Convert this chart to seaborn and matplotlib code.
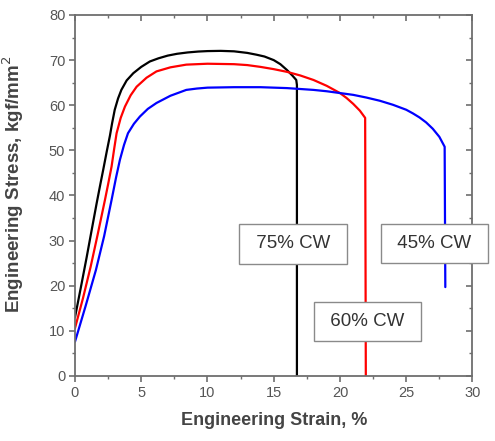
import matplotlib
matplotlib.use("Agg")
import matplotlib.pyplot as plt
import seaborn as sns
import pandas as pd

# Tensile curves: engineering strain (%) vs engineering stress (kgf/mm^2)
strain_75 = [0, 0.5, 0.88, 1.25, 1.63, 1.9, 2.13, 2.4, 2.64, 2.8, 3.0, 3.25, 3.5,
             3.9, 4.4, 5.0, 5.65, 6.3, 7.0, 7.7, 8.5, 9.3, 10.0, 11.0, 12.0, 13.0,
             13.7, 14.3, 15.0, 15.5, 16.0, 16.4, 16.7, 16.75, 16.75]
stress_75 = [13.0, 20.5, 26.3, 32.2, 38.2, 42.3, 45.7, 49.8, 53.3, 56.0, 59.0,
             61.5, 63.4, 65.5, 67.1, 68.5, 69.7, 70.4, 71.0, 71.4, 71.7, 71.9,
             72.0, 72.05, 71.95, 71.6, 71.2, 70.8, 70.0, 69.1, 67.8, 66.6, 65.6,
             64.5, 0.0]

strain_60 = [0, 0.6, 1.18, 1.7, 2.26, 2.5, 2.76, 2.95, 3.14, 3.45, 3.77, 4.2, 4.65,
             5.4, 6.15, 7.2, 8.4, 10.0, 12.0, 13.0, 14.0, 15.0, 16.0, 17.0, 18.0,
             19.0, 20.0, 20.5, 21.0, 21.5, 21.9, 21.95]
stress_60 = [10.6, 17.2, 24.2, 31.2, 39.0, 42.5, 46.4, 50.2, 53.8, 57.2, 59.7, 62.2,
             64.1, 66.1, 67.5, 68.4, 69.0, 69.2, 69.1, 68.9, 68.5, 68.0, 67.4, 66.6,
             65.6, 64.3, 62.7, 61.6, 60.3, 58.8, 57.2, 0.0]

strain_45 = [0, 0.8, 1.58, 2.2, 2.76, 3.1, 3.39, 3.7, 4.0, 4.45, 4.9, 5.5, 6.15,
             7.2, 8.4, 9.2, 10.0, 12.0, 14.0, 16.0, 18.0, 19.0, 20.0, 21.0, 22.0,
             23.0, 24.0, 25.0, 25.5, 26.0, 26.5, 27.0, 27.5, 27.9, 27.95]
stress_45 = [7.6, 15.5, 23.5, 31.0, 39.0, 44.0, 47.9, 51.2, 53.8, 55.9, 57.5, 59.2,
             60.5, 62.1, 63.4, 63.7, 63.9, 64.0, 64.0, 63.8, 63.4, 63.1, 62.7, 62.3,
             61.7, 61.0, 60.1, 59.0, 58.2, 57.3, 56.2, 54.8, 53.0, 50.8, 19.7]

labels = ["75% CW", "60% CW", "45% CW"]
colors = ["#000000", "#ff0000", "#0000ff"]
# caption box anchor (strain, stress) for each curve
label_x = [16.45, 22.1, 27.13]
label_y = [29.3, 12.1, 29.4]

x_ticks = [0, 5, 10, 15, 20, 25, 30]
y_ticks = [0, 10, 20, 30, 40, 50, 60, 70, 80]
x_minor = [2.5, 7.5, 12.5, 17.5, 22.5, 27.5]
y_minor = [5, 15, 25, 35, 45, 55, 65, 75]

frames = []
for name, xs, ys in zip(labels, [strain_75, strain_60, strain_45],
                        [stress_75, stress_60, stress_45]):
    frames.append(pd.DataFrame({"strain": xs, "stress": ys, "grade": name}))
df = pd.concat(frames, ignore_index=True)

sns.set_theme(style="ticks")
plt.rcParams["font.family"] = ["Liberation Sans", "DejaVu Sans"]

axis_gray = "#6e6e6e"
text_gray = "#555555"

fig = plt.figure(figsize=(4.95, 4.41), dpi=100)
ax = fig.add_axes([0.1515, 0.1474, 0.8030, 0.8186])

sns.lineplot(data=df, x="strain", y="stress", hue="grade", palette=colors,
             hue_order=labels, sort=False, estimator=None, units="grade",
             linewidth=1.6, legend=False, ax=ax)

ax.set_xlim(0, 30)
ax.set_ylim(0, 80)
ax.set_xticks(x_ticks)
ax.set_yticks(y_ticks)
ax.set_xticks(x_minor, minor=True)
ax.set_yticks(y_minor, minor=True)

for side in ["left", "bottom", "top", "right"]:
    ax.spines[side].set_visible(True)
    ax.spines[side].set_color(axis_gray)
    ax.spines[side].set_linewidth(1.3)

ax.tick_params(which="major", direction="out", length=4, width=1.2,
               color=axis_gray, labelsize=10.5, labelcolor=text_gray, pad=3)
ax.tick_params(which="minor", direction="out", length=2, width=1.0, color=axis_gray)

# inward ticks along the top and right edges
top = ax.secondary_xaxis("top")
top.set_xticks(x_ticks)
top.set_xticks(x_minor, minor=True)
top.tick_params(which="both", direction="in", labeltop=False, color=axis_gray)
top.tick_params(which="major", length=4, width=1.2)
top.tick_params(which="minor", length=2, width=1.0)
top.spines["top"].set_visible(False)
right = ax.secondary_yaxis("right")
right.set_yticks(y_ticks)
right.set_yticks(y_minor, minor=True)
right.tick_params(which="both", direction="in", labelright=False, color=axis_gray)
right.tick_params(which="major", length=4, width=1.2)
right.tick_params(which="minor", length=2, width=1.0)
right.spines["right"].set_visible(False)

ax.set_xlabel("Engineering Strain, %", fontsize=13, fontweight="bold",
              color="#444444")
ax.set_ylabel("Engineering Stress, kgf/mm$^2$", fontsize=13.5, fontweight="bold",
              color="#444444")
ax.xaxis.set_label_coords(0.5, -0.1)
ax.yaxis.set_label_coords(-0.122, 0.53)

for name, lx, ly in zip(labels, label_x, label_y):
    ax.text(lx, ly, " " + name + " ", ha="center", va="center", fontsize=13.5,
            color="#333333", zorder=5, clip_on=False,
            bbox=dict(boxstyle="square,pad=0.6", facecolor="white",
                      edgecolor="#8a8a8a", linewidth=1.0))

fig.savefig("out.png", dpi=100)
